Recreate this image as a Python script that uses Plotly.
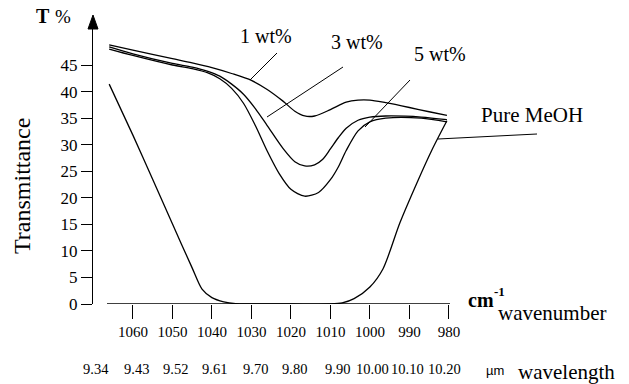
import plotly.graph_objects as go

# ---------------- data ----------------
wn_1wt = [1066, 1060, 1050, 1045, 1040, 1035, 1030, 1026, 1022, 1019, 1016.5, 1014, 1010, 1006, 1003, 1000, 996, 990, 985, 980.5]
t_1wt = [48.8, 47.8, 46.2, 45.4, 44.5, 43.4, 42.1, 40.4, 38.2, 36.3, 35.4, 35.4, 36.6, 38.0, 38.4, 38.4, 37.9, 37.0, 36.2, 35.5]

wn_3wt = [1066, 1060, 1050, 1045, 1041, 1038, 1035, 1032, 1029, 1026, 1022, 1019, 1016.5, 1014, 1012, 1010, 1008, 1006, 1003, 1000, 996, 987, 980.5]
t_3wt = [48.4, 47.1, 45.3, 44.6, 43.8, 42.9, 41.4, 39.5, 36.8, 33.6, 29.3, 26.8, 26.0, 26.2, 27.2, 29.2, 31.3, 33.1, 34.6, 35.2, 35.4, 35.2, 34.7]

wn_5wt = [1066, 1060, 1050, 1045, 1041, 1038, 1035, 1032, 1029, 1026, 1023, 1020, 1016.5, 1013, 1010, 1008, 1006, 1003, 1000, 996, 987, 980.5]
t_5wt = [48.0, 46.8, 45.0, 44.3, 43.5, 42.4, 40.6, 37.8, 33.6, 28.8, 24.6, 21.6, 20.3, 21.0, 23.4, 25.8, 28.9, 32.6, 34.3, 35.0, 35.0, 34.3]

wn_meoh = [1066, 1060, 1055, 1050, 1045, 1042.5, 1040, 1037, 1034, 1030, 1020, 1010, 1007, 1004, 1000, 996.7, 992.4, 988.1, 984.3, 980.5]
t_meoh = [41.4, 31.8, 23.5, 15.1, 6.8, 2.8, 1.2, 0.4, 0.05, 0, 0, 0, 0.2, 1.0, 3.2, 6.6, 15.3, 22.8, 29.0, 34.5]

x_ticks = [1060, 1050, 1040, 1030, 1020, 1010, 1000, 990, 980]
y_ticks = [0, 5, 10, 15, 20, 25, 30, 35, 40, 45]
wl_labels = ["9.34", "9.43", "9.52", "9.61", "9.70", "9.80", "9.90", "10.00", "10.10", "10.20"]

series_names = ["1 wt%", "3 wt%", "5 wt%", "Pure MeOH"]

# ---------------- geometry helpers ----------------
W, H = 629, 384
ML, MR, MT, MB = 93, 168, 28, 80
PW, PH = W - ML - MR, H - MT - MB
PX_PER_X = 3.95
PX_PER_Y = 5.311
X_LEFT = 1070.1
X_RIGHT = X_LEFT - PW / PX_PER_X
Y_TOP = PH / PX_PER_Y


def px2x(px):
    return X_LEFT - (px - ML) / PX_PER_X


def ppx(px):  # pixel -> paper x
    return (px - ML) / PW


def ppy(py):  # pixel -> paper y
    return (H - MB - py) / PH


SERIF = "Liberation Serif"
LINE = dict(color="black", width=1.3, shape="spline", smoothing=0.8)

fig = go.Figure()
for xs, ys, nm in [(wn_1wt, t_1wt, series_names[0]), (wn_3wt, t_3wt, series_names[1]),
                   (wn_5wt, t_5wt, series_names[2]), (wn_meoh, t_meoh, series_names[3])]:
    fig.add_trace(go.Scatter(x=xs, y=ys, mode="lines", name=nm, line=LINE,
                             cliponaxis=False, showlegend=False, hoverinfo="skip"))

shapes = []
# x axis baseline (does not reach the y axis)
shapes.append(dict(type="line", xref="x", yref="y", x0=px2x(107), x1=px2x(450), y0=0, y1=0,
                   line=dict(color="black", width=1.3)))
# arrow head on the y axis
shapes.append(dict(type="path", xref="paper", yref="paper",
                   path="M {a},{t} L {l},{b} L {r},{b} Z".format(
                       a=ppx(93), t=ppy(15), l=ppx(88), r=ppx(98), b=ppy(29)),
                   fillcolor="black", line=dict(color="black", width=1)))
# leader lines
leaders = [((277, 53), (250, 80)), ((343, 67), (267, 117)), ((410, 80), (365, 127)), ((537, 134), (438, 139))]
for (xa, ya), (xb, yb) in leaders:
    shapes.append(dict(type="line", xref="paper", yref="paper", x0=ppx(xa), y0=ppy(ya), x1=ppx(xb), y1=ppy(yb),
                       line=dict(color="black", width=1)))

ann = []


def text(px, py, s, size, family=SERIF, xanchor="center", angle=0):
    ann.append(dict(x=ppx(px), y=ppy(py), xref="paper", yref="paper", text=s, showarrow=False,
                    textangle=angle, font=dict(family=family, size=size, color="black"),
                    xanchor=xanchor, yanchor="middle"))


label_pos = [(266, 36), (357, 42), (440, 54), (532, 115)]
label_size = [20, 20, 20, 21]
for nm, (px, py), sz in zip(series_names, label_pos, label_size):
    text(px, py, nm, sz)

# wavelength labels
wl_px = [96, 136, 175, 214, 255, 294, 337, 372, 407, 444]
for lab, px in zip(wl_labels, wl_px):
    text(px, 369, lab, 14.5)

# axis texts
text(22, 186, "Transmittance", 24, angle=-90)
text(43, 16, "<b>T</b>", 20)
text(63, 16, "%", 19)
text(466, 300, "<b>cm</b>", 20, xanchor="left")
text(492, 291, "<b>-1</b>", 13, xanchor="left")
text(496, 313, "wavenumber", 21, xanchor="left")
text(484, 370, "µm", 13, family="Liberation Sans", xanchor="left")
text(516, 372, "wavelength", 21, xanchor="left")

fig.update_layout(
    width=W, height=H,
    margin=dict(l=ML, r=MR, t=MT, b=MB, pad=0),
    paper_bgcolor="white", plot_bgcolor="white",
    shapes=shapes, annotations=ann,
    xaxis=dict(range=[X_LEFT, X_RIGHT], showgrid=False, zeroline=False, showline=False,
               tickmode="array", tickvals=x_ticks, ticktext=[str(v) for v in x_ticks],
               ticks="outside", ticklen=14, tickwidth=1, tickcolor="black",
               tickfont=dict(family=SERIF, size=15, color="black")),
    yaxis=dict(range=[0, Y_TOP], showgrid=False, zeroline=False, showline=True, linecolor="black",
               linewidth=1.3, tickmode="array", tickvals=y_ticks, ticktext=[str(v) for v in y_ticks],
               ticks="outside", ticklen=11, tickwidth=1.3, tickcolor="black",
               tickfont=dict(family=SERIF, size=17, color="black")),
)

fig.write_html("out.html")
